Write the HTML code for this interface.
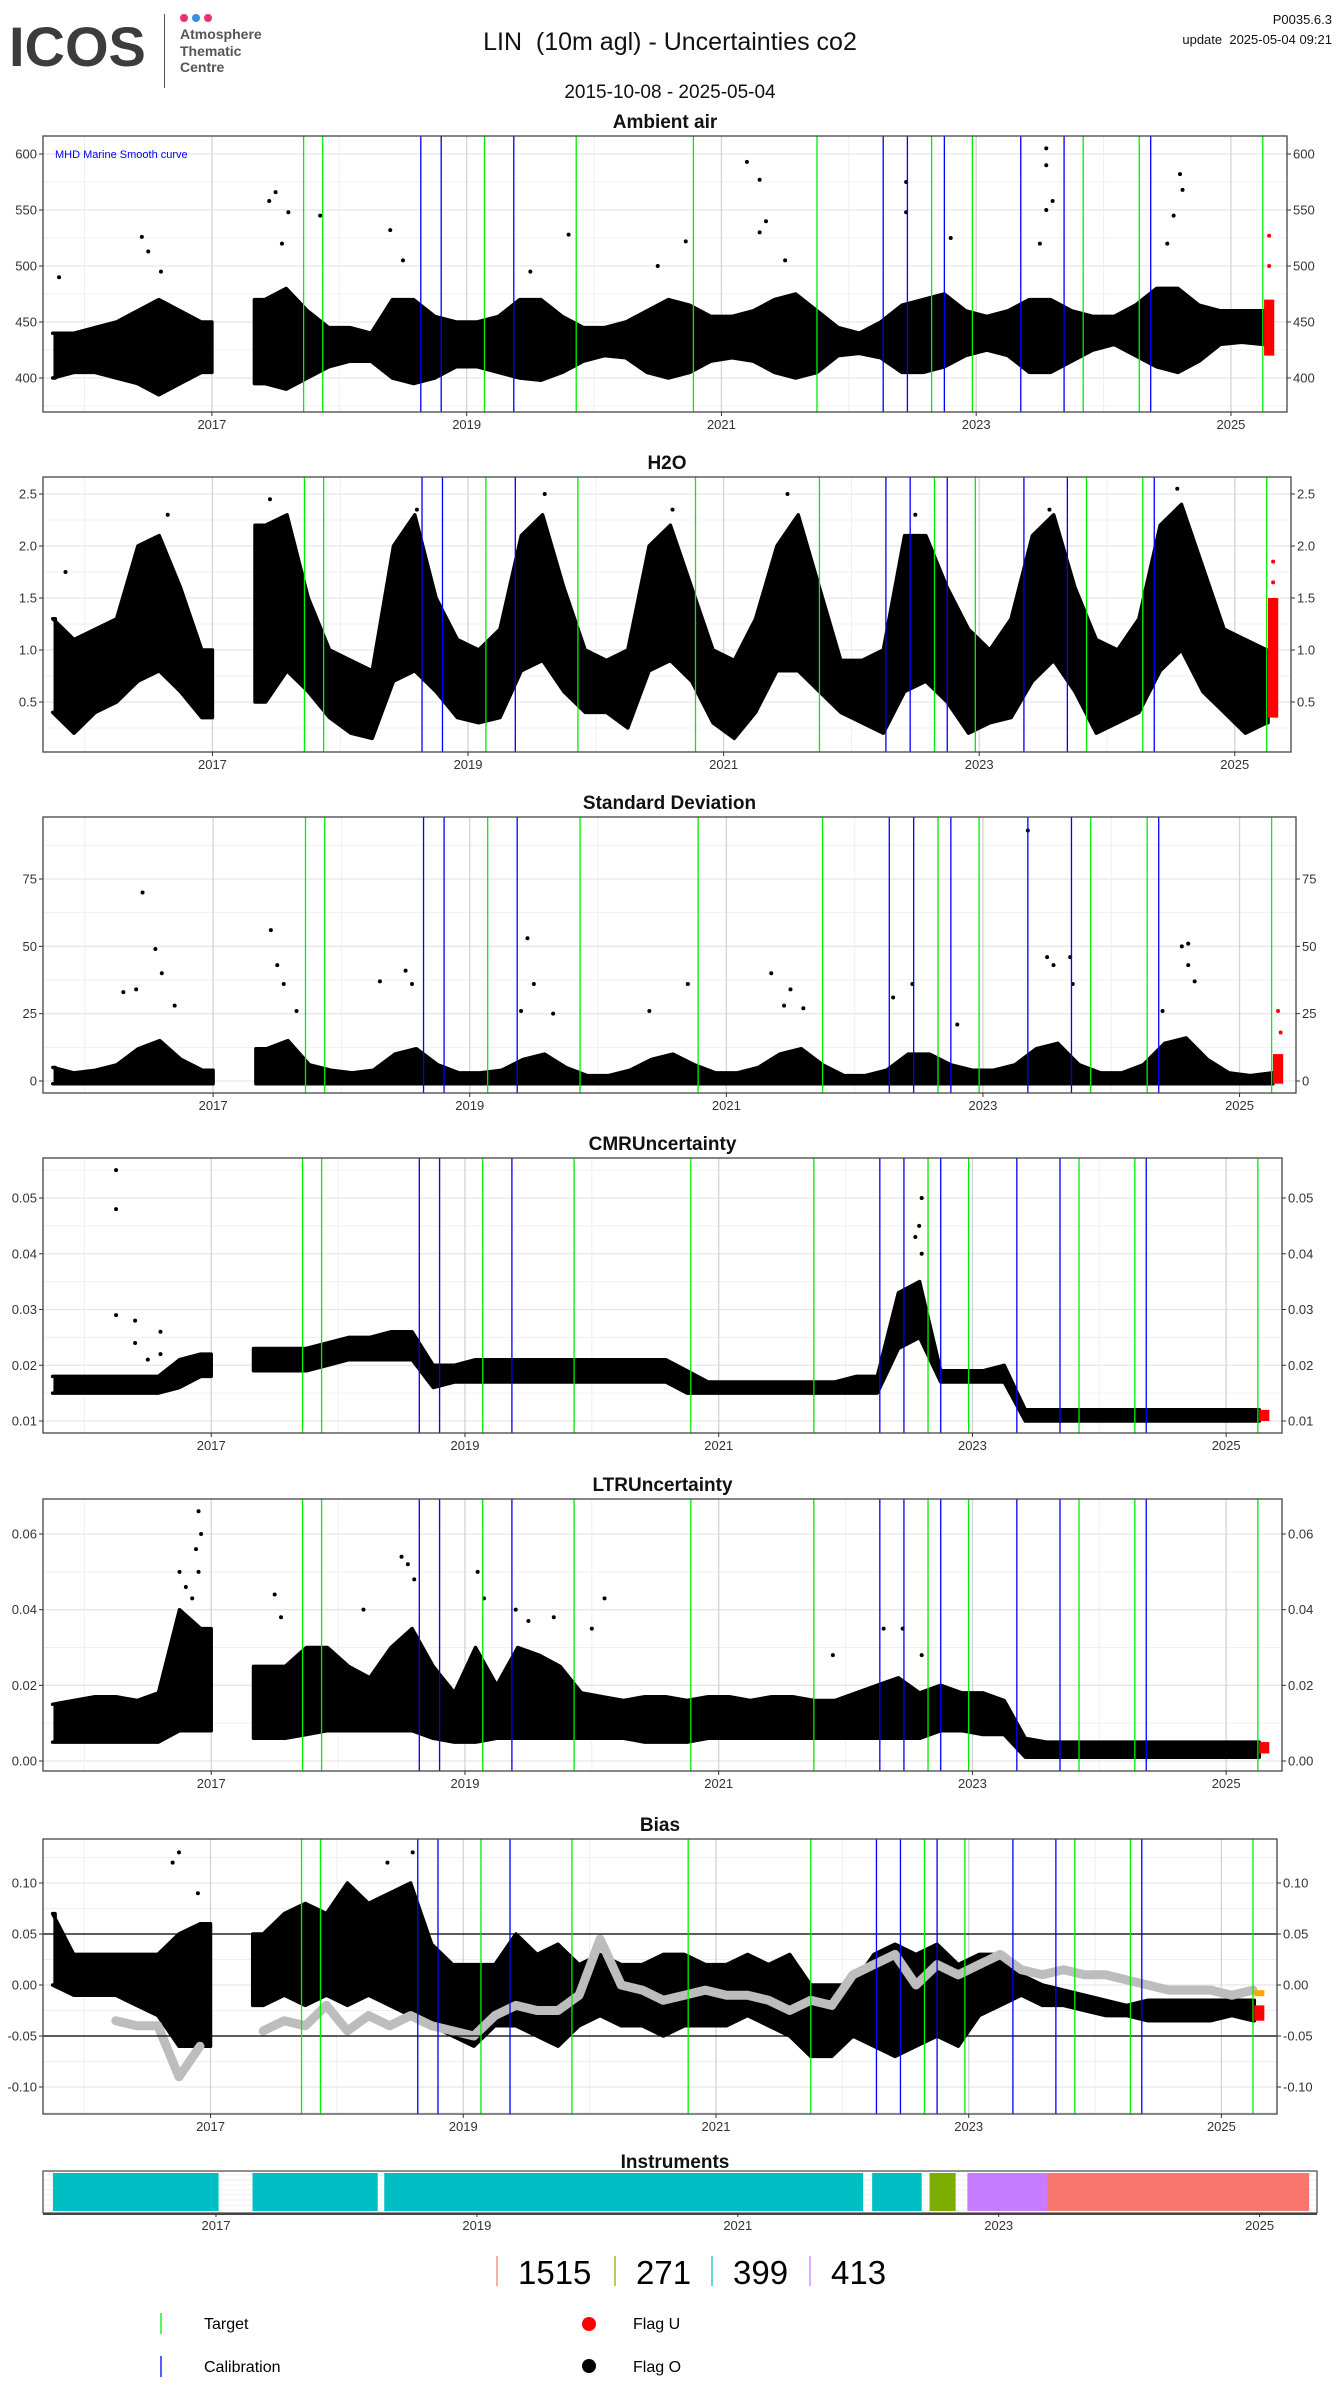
<!DOCTYPE html>
<html><head><meta charset="utf-8"><title>LIN Uncertainties co2</title>
<style>
html,body{margin:0;padding:0;background:#fff;}
body{width:1340px;height:2400px;position:relative;overflow:hidden;font-family:"Liberation Sans",sans-serif;}
.abs{position:absolute;white-space:nowrap;}
</style></head>
<body>
<div class="abs" style="left:9px;top:14px;font-size:56px;font-weight:bold;color:#3c3c3c;letter-spacing:0px;">ICOS</div>
<div class="abs" style="left:164px;top:14px;width:1px;height:74px;background:#555;"></div>
<div class="abs" style="left:180px;top:14px;width:8px;height:8px;border-radius:4px;background:#e8336e;"></div>
<div class="abs" style="left:192px;top:14px;width:8px;height:8px;border-radius:4px;background:#3a8fdc;"></div>
<div class="abs" style="left:204px;top:14px;width:8px;height:8px;border-radius:4px;background:#e8336e;"></div>
<div class="abs" style="left:180px;top:26px;font-size:14px;line-height:16.5px;color:#555;font-weight:bold;">Atmosphere<br>Thematic<br>Centre</div>
<div class="abs" style="left:0;width:1340px;text-align:center;top:28px;font-size:25px;color:#111;">LIN&nbsp; (10m agl) - Uncertainties co2</div>
<div class="abs" style="left:0;width:1340px;text-align:center;top:82px;font-size:19px;color:#111;">2015-10-08 - 2025-05-04</div>
<div class="abs" style="right:8px;top:12px;font-size:13px;color:#111;">P0035.6.3</div>
<div class="abs" style="right:8px;top:32px;font-size:13px;color:#111;">update&nbsp; 2025-05-04 09:21</div>

<svg id="chart" width="1340" height="2400" style="position:absolute;left:0;top:0;" xmlns="http://www.w3.org/2000/svg"></svg>

<script>
// ---------- shared data ----------
const binStart = 2015.75;
const binStep = 1/6;
const targetDates = [2017.72,2017.87,2019.14,2019.86,2020.78,2021.75,2022.65,2022.97,2023.84,2024.28,2025.25];
const calibDates = [2018.64,2018.80,2019.37,2022.27,2022.46,2022.75,2023.35,2023.69,2024.37];
const yearTicks = [2017,2019,2021,2023,2025];
const minorYears = [2016,2018,2020,2022,2024];
const flagUStart = 2025.26, flagUEnd = 2025.34;

// Ambient air
const ambLo = [400,405,405,400,395,385,395,405,null,null,395,390,400,410,415,415,400,395,400,410,410,405,400,398,405,415,420,418,405,400,405,415,418,415,405,400,405,420,422,418,405,405,410,420,425,420,405,405,415,425,430,420,410,405,415,430,432,430];
const ambHi = [440,440,445,450,460,470,460,450,null,null,470,480,460,445,445,440,470,470,455,450,450,455,470,470,455,445,445,450,460,470,465,455,455,460,470,475,460,445,440,450,465,470,475,460,455,460,470,470,460,455,455,465,480,480,465,460,460,460];
const ambRed = [420,470];
const ambOutT = [2016.45,2016.5,2017.5,2017.45,2017.6,2017.85,2018.4,2019.8,2020.72,2021.2,2021.3,2021.35,2021.3,2022.45,2022.45,2023.55,2023.55,2023.55,2023.6,2024.6,2024.55,2024.62,2016.6,2017.55,2018.5,2019.5,2020.5,2021.5,2022.8,2023.5,2024.5,2015.8,2025.3,2025.3];
const ambOutV = [526,513,566,558,548,545,532,528,522,593,577,540,530,575,548,605,590,550,558,582,545,568,495,520,505,495,500,505,525,520,520,490,527,500];

// H2O
const h2oLo = [0.4,0.2,0.4,0.5,0.7,0.8,0.6,0.35,null,null,0.5,0.8,0.6,0.35,0.2,0.15,0.7,0.8,0.6,0.35,0.3,0.35,0.8,0.9,0.6,0.4,0.4,0.25,0.8,0.9,0.7,0.3,0.15,0.4,0.8,0.8,0.6,0.4,0.3,0.2,0.6,0.7,0.5,0.2,0.3,0.35,0.7,0.9,0.6,0.2,0.3,0.4,0.8,1.0,0.6,0.4,0.2,0.3];
const h2oHi = [1.3,1.1,1.2,1.3,2.0,2.1,1.6,1.0,null,null,2.2,2.3,1.5,1.0,0.9,0.8,2.0,2.3,1.5,1.1,1.0,1.2,2.1,2.3,1.6,1.0,0.9,1.0,2.0,2.2,1.6,1.0,0.9,1.3,2.0,2.3,1.6,0.9,0.9,1.0,2.1,2.1,1.6,1.2,1.0,1.3,2.1,2.3,1.6,1.1,1.0,1.3,2.2,2.4,1.8,1.2,1.1,1.0];
const h2oRed = [0.35,1.5];
const h2oOutT = [2015.85,2016.65,2017.45,2018.6,2019.6,2020.6,2021.5,2022.5,2023.55,2024.55,2025.3,2025.3];
const h2oOutV = [1.75,2.3,2.45,2.35,2.5,2.35,2.5,2.3,2.35,2.55,1.85,1.65];

// Standard deviation
const sdLo = [-1,-1,-1,-1,-1,-1,-1,-1,null,null,-1,-1,-1,-1,-1,-1,-1,-1,-1,-1,-1,-1,-1,-1,-1,-1,-1,-1,-1,-1,-1,-1,-1,-1,-1,-1,-1,-1,-1,-1,-1,-1,-1,-1,-1,-1,-1,-1,-1,-1,-1,-1,-1,-1,-1,-1,-1,-1];
const sdHi = [5,3,4,6,12,15,8,4,null,null,12,15,6,4,3,4,10,12,6,3,3,4,8,10,5,2,2,4,8,10,6,3,3,5,10,12,6,2,2,4,10,10,6,4,4,6,12,14,6,3,3,6,14,16,8,3,2,3];
const sdRed = [-1,10];
const sdOutT = [2016.45,2016.55,2016.6,2016.4,2016.3,2017.45,2017.5,2017.55,2018.3,2018.5,2018.55,2019.45,2019.5,2019.4,2020.7,2020.4,2021.35,2021.5,2021.6,2022.3,2022.45,2023.5,2023.55,2023.68,2023.7,2023.35,2024.55,2024.6,2024.6,2024.65,2024.4,2022.8,2016.7,2017.65,2019.65,2021.45,2025.3,2025.32];
const sdOutV = [70,49,40,34,33,56,43,36,37,41,36,53,36,26,36,26,40,34,27,31,36,46,43,46,36,93,50,51,43,37,26,21,28,26,25,28,26,18];

// CMR uncertainty
const cmrLo = [0.015,0.015,0.015,0.015,0.015,0.015,0.016,0.018,null,null,0.019,0.019,0.019,0.02,0.021,0.021,0.021,0.021,0.016,0.017,0.017,0.017,0.017,0.017,0.017,0.017,0.017,0.017,0.017,0.017,0.015,0.015,0.015,0.015,0.015,0.015,0.015,0.015,0.015,0.015,0.023,0.025,0.017,0.017,0.017,0.017,0.01,0.01,0.01,0.01,0.01,0.01,0.01,0.01,0.01,0.01,0.01,0.01];
const cmrHi = [0.018,0.018,0.018,0.018,0.018,0.018,0.021,0.022,null,null,0.023,0.023,0.023,0.024,0.025,0.025,0.026,0.026,0.02,0.02,0.021,0.021,0.021,0.021,0.021,0.021,0.021,0.021,0.021,0.021,0.019,0.017,0.017,0.017,0.017,0.017,0.017,0.017,0.018,0.018,0.033,0.035,0.019,0.019,0.019,0.02,0.012,0.012,0.012,0.012,0.012,0.012,0.012,0.012,0.012,0.012,0.012,0.012];
const cmrRed = [0.01,0.012];
const cmrOutT = [2016.25,2016.25,2016.25,2016.4,2016.4,2016.6,2016.6,2016.5,2022.6,2022.58,2022.6,2022.55];
const cmrOutV = [0.055,0.048,0.029,0.028,0.024,0.026,0.022,0.021,0.05,0.045,0.04,0.043];

// LTR uncertainty
const ltrLo = [0.005,0.005,0.005,0.005,0.005,0.005,0.008,0.008,null,null,0.006,0.006,0.007,0.008,0.008,0.008,0.008,0.008,0.006,0.005,0.005,0.006,0.006,0.006,0.006,0.006,0.006,0.006,0.005,0.005,0.005,0.006,0.006,0.006,0.006,0.006,0.006,0.006,0.006,0.006,0.006,0.006,0.008,0.008,0.007,0.007,0.001,0.001,0.001,0.001,0.001,0.001,0.001,0.001,0.001,0.001,0.001,0.001];
const ltrHi = [0.015,0.016,0.017,0.017,0.016,0.018,0.04,0.035,null,null,0.025,0.025,0.03,0.03,0.025,0.022,0.03,0.035,0.025,0.018,0.03,0.02,0.03,0.028,0.025,0.018,0.017,0.016,0.017,0.017,0.016,0.017,0.017,0.016,0.017,0.017,0.016,0.016,0.018,0.02,0.022,0.018,0.02,0.018,0.018,0.016,0.006,0.005,0.005,0.005,0.005,0.005,0.005,0.005,0.005,0.005,0.005,0.005];
const ltrRed = [0.002,0.005];
const ltrOutT = [2016.75,2016.8,2016.9,2016.92,2016.88,2016.9,2016.85,2017.5,2017.55,2018.2,2018.5,2018.55,2018.6,2019.1,2019.15,2019.4,2019.5,2019.7,2020.1,2020.0,2022.3,2022.45,2022.6,2021.9];
const ltrOutV = [0.05,0.046,0.066,0.06,0.056,0.05,0.043,0.044,0.038,0.04,0.054,0.052,0.048,0.05,0.043,0.04,0.037,0.038,0.043,0.035,0.035,0.035,0.028,0.028];

// Bias
const biasLo = [0.0,-0.01,-0.01,-0.01,-0.02,-0.03,-0.06,-0.06,null,null,-0.02,-0.01,-0.02,-0.01,-0.02,-0.01,-0.02,-0.03,-0.04,-0.05,-0.06,-0.04,-0.04,-0.05,-0.06,-0.04,-0.03,-0.04,-0.04,-0.05,-0.04,-0.04,-0.04,-0.03,-0.04,-0.05,-0.07,-0.07,-0.05,-0.06,-0.07,-0.06,-0.05,-0.06,-0.03,-0.02,-0.01,-0.02,-0.02,-0.025,-0.03,-0.03,-0.035,-0.035,-0.035,-0.035,-0.03,-0.035];
const biasHi = [0.07,0.03,0.03,0.03,0.03,0.03,0.05,0.06,null,null,0.05,0.07,0.08,0.07,0.1,0.08,0.09,0.1,0.04,0.02,0.02,0.02,0.05,0.03,0.04,0.02,0.03,0.02,0.02,0.03,0.03,0.02,0.02,0.03,0.02,0.03,0.0,0.0,0.0,0.03,0.04,0.03,0.04,0.02,0.03,0.03,0.01,0.0,-0.005,-0.01,-0.015,-0.02,-0.015,-0.015,-0.015,-0.015,-0.015,-0.015];
const biasRed = [-0.035,-0.02];
const biasSmooth = [null,null,null,-0.035,-0.04,-0.04,-0.09,-0.06,null,null,-0.045,-0.035,-0.04,-0.02,-0.045,-0.03,-0.04,-0.03,-0.04,-0.045,-0.05,-0.03,-0.02,-0.025,-0.025,-0.01,0.045,0.0,-0.005,-0.015,-0.01,-0.005,-0.01,-0.01,-0.015,-0.025,-0.015,-0.02,0.01,0.02,0.03,0.0,0.02,0.01,0.02,0.03,0.015,0.01,0.015,0.01,0.01,0.005,0.0,-0.005,-0.005,-0.005,-0.01,-0.005];
const biasOrange = -0.008;
const biasOutT = [2016.7,2016.75,2016.9,2018.4,2018.6];
const biasOutV = [0.12,0.13,0.09,0.12,0.13];
const biasRefLines = [0.05,-0.05];

// Instruments
const instStart = [2015.75,2017.28,2018.29,2022.03,2022.47,2022.76,2023.37];
const instEnd = [2017.02,2018.24,2021.96,2022.41,2022.67,2023.37,2025.38];
const instColor = ['#00bfc4','#00bfc4','#00bfc4','#00bfc4','#7cae00','#c77cff','#f8766d'];
const instIds = ['1515','271','399','413'];
const instIdColor = ['#f8766d','#7cae00','#00bfc4','#c77cff'];

// ---------- drawing ----------
const NS = 'http://www.w3.org/2000/svg';
const svg = document.getElementById('chart');
const X0 = 2015.674, X1 = 2025.44, LEFT = 43;
function mk(tag, attrs, parent) {
  const e = document.createElementNS(NS, tag);
  for (const k in attrs) e.setAttribute(k, attrs[k]);
  (parent || svg).appendChild(e);
  return e;
}
function txt(x, y, s, attrs, parent) {
  const t = mk('text', Object.assign({x: x, y: y, 'font-family': 'Liberation Sans, sans-serif'}, attrs), parent);
  t.textContent = s;
  return t;
}

function panel(cfg) {
  const g = mk('g', {});
  
  
  const R = cfg.right;
  const xs = t => LEFT + (t - X0) / (X1 - X0) * (R - LEFT);
  const k = (cfg.cal[3] - cfg.cal[1]) / (cfg.cal[2] - cfg.cal[0]);
  const ys = v => cfg.cal[1] + (v - cfg.cal[0]) * k;
  const ti = txt((LEFT + R) / 2, cfg.top - 8, cfg.title, {'font-size': 19, 'font-weight': 'bold', 'text-anchor': 'middle', fill: '#111'}, g);
  
  
  const clipId = 'clip' + cfg.name;
  const cp = mk('clipPath', {id: clipId}, g);
  mk('rect', {x: LEFT, y: cfg.top, width: R - LEFT, height: cfg.bottom - cfg.top}, cp);
  const tk = cfg.ticks;
  for (let i = 0; i < tk.length - 1; i++) {
    const m = (tk[i] + tk[i + 1]) / 2;
    mk('line', {x1: LEFT, x2: R, y1: ys(m), y2: ys(m), stroke: '#f0f0f0', 'stroke-width': 1}, g);
  }
  const lowMinor = tk[0] - (tk[1] - tk[0]) / 2, hiMinor = tk[tk.length - 1] + (tk[1] - tk[0]) / 2;
  [lowMinor, hiMinor].forEach(m => { const y = ys(m); if (y > cfg.top && y < cfg.bottom) mk('line', {x1: LEFT, x2: R, y1: y, y2: y, stroke: '#f0f0f0'}, g); });
  tk.forEach(v => mk('line', {x1: LEFT, x2: R, y1: ys(v), y2: ys(v), stroke: '#e6e6e6', 'stroke-width': 1.3}, g));
  minorYears.forEach(yr => mk('line', {x1: xs(yr), x2: xs(yr), y1: cfg.top, y2: cfg.bottom, stroke: '#efefef'}, g));
  yearTicks.forEach(yr => mk('line', {x1: xs(yr), x2: xs(yr), y1: cfg.top, y2: cfg.bottom, stroke: '#d4d4d4', 'stroke-width': 1.3}, g));
  const dg = mk('g', {'clip-path': 'url(#' + clipId + ')'}, g);
  function band(lo, hi, color) {
    let run = [];
    const runs = [];
    for (let i = 0; i < lo.length; i++) {
      if (lo[i] === null) { if (run.length) runs.push(run); run = []; }
      else run.push(i);
    }
    if (run.length) runs.push(run);
    runs.forEach(r => {
      const tS = Math.max(binStart + r[0] * binStep - binStep / 2, 2015.77);
      const tE = Math.min(binStart + r[r.length - 1] * binStep + binStep / 2, flagUStart);
      const up = [], dn = [];
      up.push([xs(tS), ys(hi[r[0]])]);
      dn.push([xs(tS), ys(lo[r[0]])]);
      r.forEach(i => { const t = binStart + i * binStep; up.push([xs(t), ys(hi[i])]); dn.push([xs(t), ys(lo[i])]); });
      up.push([xs(tE), ys(hi[r[r.length - 1]])]);
      dn.push([xs(tE), ys(lo[r[r.length - 1]])]);
      const pts = up.concat(dn.reverse()).map(p => p[0].toFixed(1) + ',' + p[1].toFixed(1)).join(' ');
      const pg = mk('polygon', {points: pts, fill: color, stroke: color, 'stroke-width': 3.5, 'stroke-linejoin': 'round'}, dg);
      
      
    });
  }
  band(cfg.lo, cfg.hi, '#000');
  const rb = mk('rect', {x: xs(flagUStart), y: ys(cfg.red[1]), width: xs(flagUEnd) - xs(flagUStart), height: Math.max(2, ys(cfg.red[0]) - ys(cfg.red[1])), fill: '#ff0000'}, dg);
  
  
  if (cfg.extra) cfg.extra(dg, xs, ys);
  for (let i = 0; i < cfg.outT.length; i++) {
    const red = cfg.outT[i] >= flagUStart;
    const c = mk('circle', {cx: xs(cfg.outT[i]), cy: ys(cfg.outV[i]), r: 2, fill: red ? '#ff0000' : '#000'}, dg);
    
    
  }
  targetDates.forEach(d => {
    const l = mk('line', {x1: xs(d), x2: xs(d), y1: cfg.top, y2: cfg.bottom, stroke: '#00ee00', 'stroke-width': 1.3}, g);
    
    
  });
  calibDates.forEach(d => {
    const l = mk('line', {x1: xs(d), x2: xs(d), y1: cfg.top, y2: cfg.bottom, stroke: '#0000ff', 'stroke-width': 1.3}, g);
    
    
  });
  mk('rect', {x: LEFT, y: cfg.top, width: R - LEFT, height: cfg.bottom - cfg.top, fill: 'none', stroke: '#444', 'stroke-width': 1.3}, g);
  tk.forEach(v => {
    const y = ys(v);
    mk('line', {x1: LEFT - 4, x2: LEFT, y1: y, y2: y, stroke: '#333'}, g);
    mk('line', {x1: R, x2: R + 4, y1: y, y2: y, stroke: '#333'}, g);
    const s = v.toFixed(cfg.dp);
    const a = txt(LEFT - 6, y + 4.5, s, {'font-size': 13, 'text-anchor': 'end', fill: '#333'}, g);
    
    
    const b = txt(R + 6, y + 4.5, s, {'font-size': 13, fill: '#333'}, g);
    
    
  });
  yearTicks.forEach(yr => {
    mk('line', {x1: xs(yr), x2: xs(yr), y1: cfg.bottom, y2: cfg.bottom + 4, stroke: '#333'}, g);
    const t = txt(xs(yr), cfg.bottom + 17, String(yr), {'font-size': 13, 'text-anchor': 'middle', fill: '#333'}, g);
    
    
  });
  return {xs, ys, g};
}

const p1 = panel({name: 'ambient-air-panel', title: 'Ambient air', top: 136, bottom: 412, right: 1287, cal: [600, 154, 400, 378], ticks: [400, 450, 500, 550, 600], dp: 0, lo: ambLo, hi: ambHi, red: ambRed, outT: ambOutT, outV: ambOutV});
const lab = txt(55, 158, 'MHD Marine Smooth curve', {'font-size': 11, fill: '#0000ff'}, p1.g);


panel({name: 'h2o-panel', title: 'H2O', top: 477, bottom: 752, right: 1291, cal: [2.5, 494, 0.5, 702], ticks: [0.5, 1.0, 1.5, 2.0, 2.5], dp: 1, lo: h2oLo, hi: h2oHi, red: h2oRed, outT: h2oOutT, outV: h2oOutV});
panel({name: 'std-dev-panel', title: 'Standard Deviation', top: 817, bottom: 1093, right: 1296, cal: [75, 879, 0, 1081], ticks: [0, 25, 50, 75], dp: 0, lo: sdLo, hi: sdHi, red: sdRed, outT: sdOutT, outV: sdOutV});
panel({name: 'cmr-uncertainty-panel', title: 'CMRUncertainty', top: 1158, bottom: 1433, right: 1282, cal: [0.05, 1198, 0.01, 1421], ticks: [0.01, 0.02, 0.03, 0.04, 0.05], dp: 2, lo: cmrLo, hi: cmrHi, red: cmrRed, outT: cmrOutT, outV: cmrOutV});
panel({name: 'ltr-uncertainty-panel', title: 'LTRUncertainty', top: 1499, bottom: 1771, right: 1282, cal: [0.06, 1534, 0, 1761], ticks: [0, 0.02, 0.04, 0.06], dp: 2, lo: ltrLo, hi: ltrHi, red: ltrRed, outT: ltrOutT, outV: ltrOutV});
panel({name: 'bias-panel', title: 'Bias', top: 1839, bottom: 2114, right: 1277, cal: [0.1, 1883, -0.1, 2087], ticks: [-0.1, -0.05, 0, 0.05, 0.1], dp: 2, lo: biasLo, hi: biasHi, red: biasRed, outT: biasOutT, outV: biasOutV,
  extra: function (dg, xs, ys) {
    let seg = [];
    const segs = [];
    for (let i = 0; i < biasSmooth.length; i++) {
      if (biasSmooth[i] === null) { if (seg.length) segs.push(seg); seg = []; }
      else seg.push([xs(binStart + i * binStep), ys(biasSmooth[i])]);
    }
    if (seg.length) segs.push(seg);
    segs.forEach(s => {
      const pl = mk('polyline', {points: s.map(p => p[0].toFixed(1) + ',' + p[1].toFixed(1)).join(' '), fill: 'none', stroke: '#bdbdbd', 'stroke-width': 9, 'stroke-linejoin': 'round', 'stroke-linecap': 'round'}, dg);
      
      
    });
    const ol = mk('line', {x1: xs(flagUStart), x2: xs(flagUEnd), y1: ys(biasOrange), y2: ys(biasOrange), stroke: '#ffa500', 'stroke-width': 6}, dg);
    
    
    biasRefLines.forEach(v => {
      const l = mk('line', {x1: 43, x2: 1277, y1: ys(v), y2: ys(v), stroke: '#000', 'stroke-width': 1.3}, dg);
      
      
    });
  }});

(function () {
  const g = mk('g', {});
  
  
  const R = 1317, top = 2171, bot = 2213;
  const xs = t => LEFT + (t - X0) / (X1 - X0) * (R - LEFT);
  const t = txt((LEFT + R) / 2 - 5, top - 3, 'Instruments', {'font-size': 19, 'font-weight': 'bold', 'text-anchor': 'middle', fill: '#111'}, g);
  
  
  for (let y = top + 4; y < bot; y += 5) mk('line', {x1: LEFT, x2: R, y1: y, y2: y, stroke: '#f0f0f0'}, g);
  for (let i = 0; i < instStart.length; i++) {
    const r = mk('rect', {x: xs(instStart[i]), y: top + 2, width: xs(instEnd[i]) - xs(instStart[i]), height: bot - top - 4, fill: instColor[i]}, g);
    
    
  }
  mk('rect', {x: LEFT, y: top, width: R - LEFT, height: bot - top, fill: 'none', stroke: '#555', 'stroke-width': 1.3}, g);
  mk('line', {x1: LEFT, x2: R, y1: bot + 1, y2: bot + 1, stroke: '#444', 'stroke-width': 2}, g);
  yearTicks.forEach(yr => {
    mk('line', {x1: xs(yr), x2: xs(yr), y1: bot, y2: bot + 4, stroke: '#333'}, g);
    const l = txt(xs(yr), bot + 17, String(yr), {'font-size': 13, 'text-anchor': 'middle', fill: '#333'}, g);
    
    
  });
  const idX = [497, 615, 712, 810];
  for (let i = 0; i < instIds.length; i++) {
    mk('line', {x1: idX[i], x2: idX[i], y1: 2256, y2: 2286, stroke: instIdColor[i], 'stroke-width': 1.2}, g);
    const n = txt(idX[i] + 21, 2284, instIds[i], {'font-size': 33, fill: '#000'}, g);
    
    
  }
})();

(function () {
  const g = mk('g', {});
  
  
  mk('line', {x1: 161, x2: 161, y1: 2313, y2: 2334, stroke: '#00ee00', 'stroke-width': 1.3}, g);
  const a = txt(204, 2329, 'Target', {'font-size': 16, fill: '#000'}, g);
  
  
  mk('line', {x1: 161, x2: 161, y1: 2356, y2: 2377, stroke: '#0000ff', 'stroke-width': 1.3}, g);
  const b = txt(204, 2372, 'Calibration', {'font-size': 16, fill: '#000'}, g);
  
  
  mk('circle', {cx: 589, cy: 2324, r: 7, fill: '#ff0000'}, g);
  const c = txt(633, 2329, 'Flag U', {'font-size': 16, fill: '#000'}, g);
  
  
  mk('circle', {cx: 589, cy: 2366, r: 7, fill: '#000'}, g);
  const d = txt(633, 2372, 'Flag O', {'font-size': 16, fill: '#000'}, g);
  
  
})();
</script>
</body></html>
